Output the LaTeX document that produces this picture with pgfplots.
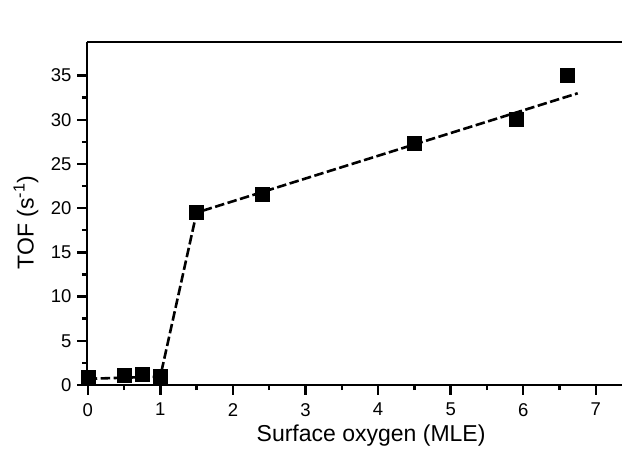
\documentclass[border=0pt]{standalone}
\usepackage{fontspec}
\setmainfont{Liberation Sans}
\usepackage{pgfplots}
\pgfplotsset{compat=1.18}
\newcommand{\tickfont}{\fontsize{18.5bp}{20bp}\selectfont}
\begin{document}
\begin{tikzpicture}
\begin{axis}[
  scale only axis, width=535bp, height=343bp,
  xmin=-0.01, xmax=7.36, ymin=0, ymax=38.8,
  axis x line=box, axis y line=left,
  axis line style={-, line width=2.7bp},
  tick pos=left,
  tick align=outside,
  major tick length=9.5bp, minor tick length=5bp,
  every tick/.style={black, line width=2.4bp},
  xtick={0,1,...,7}, ytick={0,5,...,35},
  minor x tick num=1, minor y tick num=1,
  xticklabel={\tickfont\pgfmathprintnumber[assume math mode=true]{\tick}},
  yticklabel={\tickfont\pgfmathprintnumber[assume math mode=true]{\tick}},
  xticklabel style={anchor=north, inner sep=0pt, yshift=-8.5bp},
  yticklabel style={anchor=east, inner sep=0pt, xshift=-5.8bp},
  xlabel={Surface oxygen (MLE)},
  ylabel={TOF (s\textsuperscript{-1})},
  every axis x label/.style={at={(axis description cs:0.531,-0.146)}, anchor=center, font=\fontsize{23bp}{25bp}\selectfont},
  every axis y label/.style={at={(axis description cs:-0.114,0.474)}, rotate=90, anchor=center, font=\fontsize{23bp}{25bp}\selectfont},
  clip=false,
]
\addplot[black, line width=2.6bp, dash pattern=on 9.5bp off 3.5bp] coordinates {
  (0,0.7) (1.0,0.95) (1.5,19.5) (6.75,33.0)
};
\addplot[only marks, mark=square*, mark size=7bp, mark options={black, fill=black}] coordinates {
  (0,0.83) (0.5,1.1) (0.75,1.25) (1.0,1.05) (1.5,19.6) (2.4,21.6) (4.5,27.35) (5.9,30.1) (6.6,35.0)
};
\end{axis}
\pgfresetboundingbox
\path (-87bp,-68bp) rectangle (535bp,385bp);
\end{tikzpicture}
\end{document}
